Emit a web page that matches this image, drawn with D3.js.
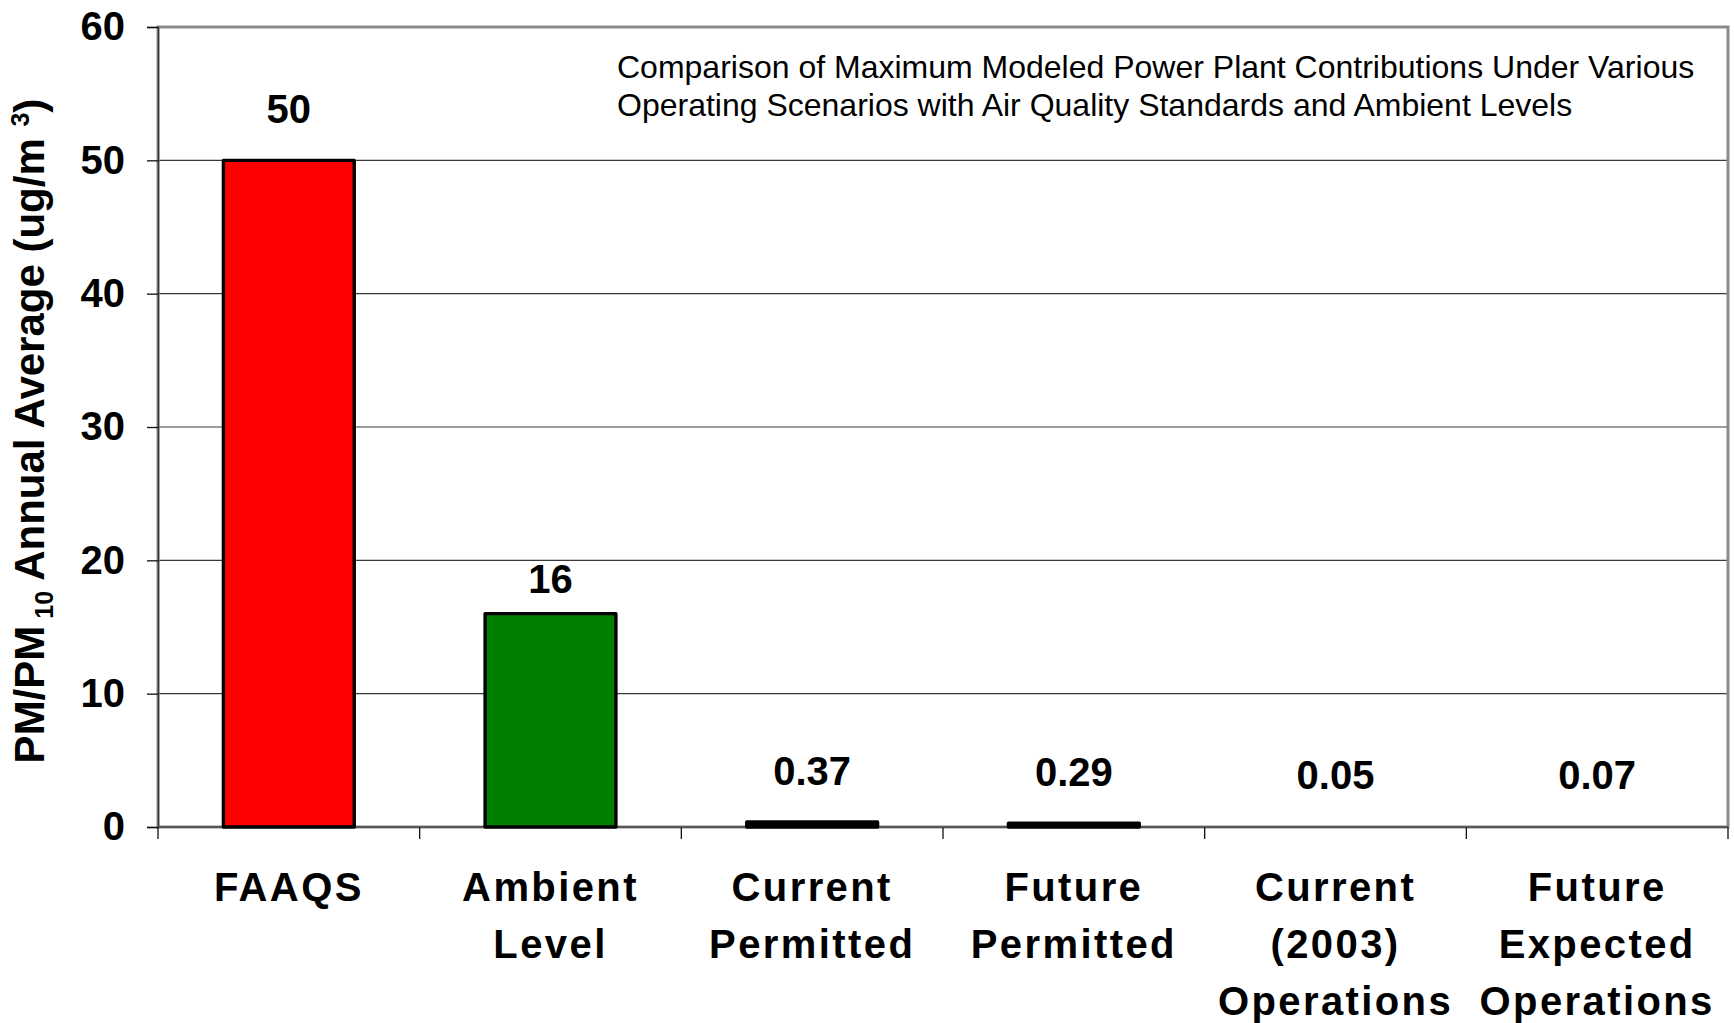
<!DOCTYPE html>
<html>
<head>
<meta charset="utf-8">
<script src="https://cdn.jsdelivr.net/npm/d3@7"></script>
<style>
  html, body { margin: 0; padding: 0; background: #fff; }
  svg { display: block; font-family: "Liberation Sans", Arial, sans-serif; }
</style>
</head>
<body>
<svg id="chart" width="1734" height="1023"></svg>
<script>
// Scenario categories (multi-line labels split on "|")
const categories = [
  "FAAQS",
  "Ambient|Level",
  "Current|Permitted",
  "Future|Permitted",
  "Current|(2003)|Operations",
  "Future|Expected|Operations"
];
// PM/PM10 annual average, ug/m3
const values = [50, 16, 0.37, 0.29, 0.05, 0.07];
const valueLabels = ["50", "16", "0.37", "0.29", "0.05", "0.07"];
const barFills = ["#ff0000", "#008000", "#000000", "#000000", "none", "none"];
const yTicks = [0, 10, 20, 30, 40, 50, 60];
const noteLines = [
  "Comparison of Maximum Modeled Power Plant Contributions Under Various",
  "Operating Scenarios with Air Quality Standards and Ambient Levels"
];

const W = 1734, H = 1023;
const plot = { left: 158, right: 1728, top: 27, bottom: 827 };

const svg = d3.select("#chart");

const x = d3.scaleBand()
  .domain(d3.range(categories.length))
  .range([plot.left, plot.right])
  .paddingInner(0.5)
  .paddingOuter(0.25);

const y = d3.scaleLinear().domain([0, 60]).range([plot.bottom, plot.top]);

// horizontal gridlines
svg.append("g")
  .selectAll("line")
  .data(yTicks.filter(t => t > 0 && t < 60))
  .join("line")
  .attr("x1", plot.left).attr("x2", plot.right)
  .attr("y1", d => y(d)).attr("y2", d => y(d))
  .attr("stroke", "#3a3a3a")
  .attr("stroke-width", 1.2);

// plot frame
svg.append("rect")
  .attr("x", plot.left).attr("y", plot.top)
  .attr("width", plot.right - plot.left)
  .attr("height", plot.bottom - plot.top)
  .attr("fill", "none")
  .attr("stroke", "#8a8a8a")
  .attr("stroke-width", 3);

// y axis
const yAxis = d3.axisLeft(y).tickValues(yTicks).tickSize(11).tickPadding(22)
  .tickFormat(d3.format("d"));
const gy = svg.append("g").attr("transform", `translate(${plot.left},0)`).call(yAxis);
gy.select(".domain").attr("stroke", "#333").attr("stroke-width", 1.4);
gy.selectAll(".tick line").attr("stroke", "#111").attr("stroke-width", 1.3);
gy.selectAll(".tick text")
  .attr("font-family", "Liberation Sans, Arial, sans-serif")
  .attr("font-size", 40).attr("font-weight", "bold").attr("fill", "#000");

// x axis: ticks at category boundaries
const bounds = d3.range(categories.length + 1)
  .map(i => plot.left + i * x.step());
svg.append("g")
  .selectAll("line")
  .data(bounds)
  .join("line")
  .attr("x1", d => d).attr("x2", d => d)
  .attr("y1", plot.bottom).attr("y2", plot.bottom + 12)
  .attr("stroke", "#111").attr("stroke-width", 1.3);
svg.append("line")
  .attr("x1", plot.left).attr("x2", plot.right)
  .attr("y1", plot.bottom).attr("y2", plot.bottom)
  .attr("stroke", "#444").attr("stroke-width", 1.4);

// bars
svg.append("g")
  .selectAll("rect")
  .data(values)
  .join("rect")
  .attr("x", (d, i) => x(i))
  .attr("width", x.bandwidth())
  .attr("y", d => y(d))
  .attr("height", d => y(0) - y(d))
  .attr("fill", (d, i) => barFills[i])
  .attr("stroke", (d, i) => barFills[i] === "none" ? "none" : "#000")
  .attr("stroke-width", 3.4)
  .attr("stroke-linejoin", "round");

// value labels above bars
const labelLift = [37, 21, 37, 37, 37, 37];
svg.append("g")
  .selectAll("text")
  .data(values)
  .join("text")
  .attr("x", (d, i) => x(i) + x.bandwidth() / 2)
  .attr("y", (d, i) => y(d) - labelLift[i])
  .attr("text-anchor", "middle")
  .attr("font-size", 40).attr("font-weight", "bold")
  .text((d, i) => valueLabels[i]);

// category labels
const catG = svg.append("g")
  .selectAll("text")
  .data(categories)
  .join("text")
  .attr("text-anchor", "middle")
  .attr("font-size", 40).attr("font-weight", "bold")
  .attr("letter-spacing", 2.4)
  .attr("transform", (d, i) => `translate(${x(i) + x.bandwidth() / 2},901)`);
catG.selectAll("tspan")
  .data(d => d.split("|"))
  .join("tspan")
  .attr("x", 0)
  .attr("y", (d, j) => j * 57)
  .text(d => d);

// y axis title
const yTitle = svg.append("text")
  .attr("transform", `translate(44,${(plot.top + plot.bottom) / 2 + 4}) rotate(-90)`)
  .attr("text-anchor", "middle")
  .attr("font-size", 42).attr("font-weight", "bold");
yTitle.append("tspan").text("PM/PM");
yTitle.append("tspan").attr("font-size", 25).attr("dy", 9).text(" 10");
yTitle.append("tspan").attr("dy", -9).text(" Annual Average (ug/m ");
yTitle.append("tspan").attr("font-size", 25).attr("dy", -15).text("3");
yTitle.append("tspan").attr("dy", 15).text(")");

// note inside plot
svg.append("g")
  .selectAll("text")
  .data(noteLines)
  .join("text")
  .attr("x", 617)
  .attr("y", (d, i) => 78 + i * 38)
  .attr("font-size", 32)
  .attr("fill", "#000")
  .text(d => d);
</script>
</body>
</html>
